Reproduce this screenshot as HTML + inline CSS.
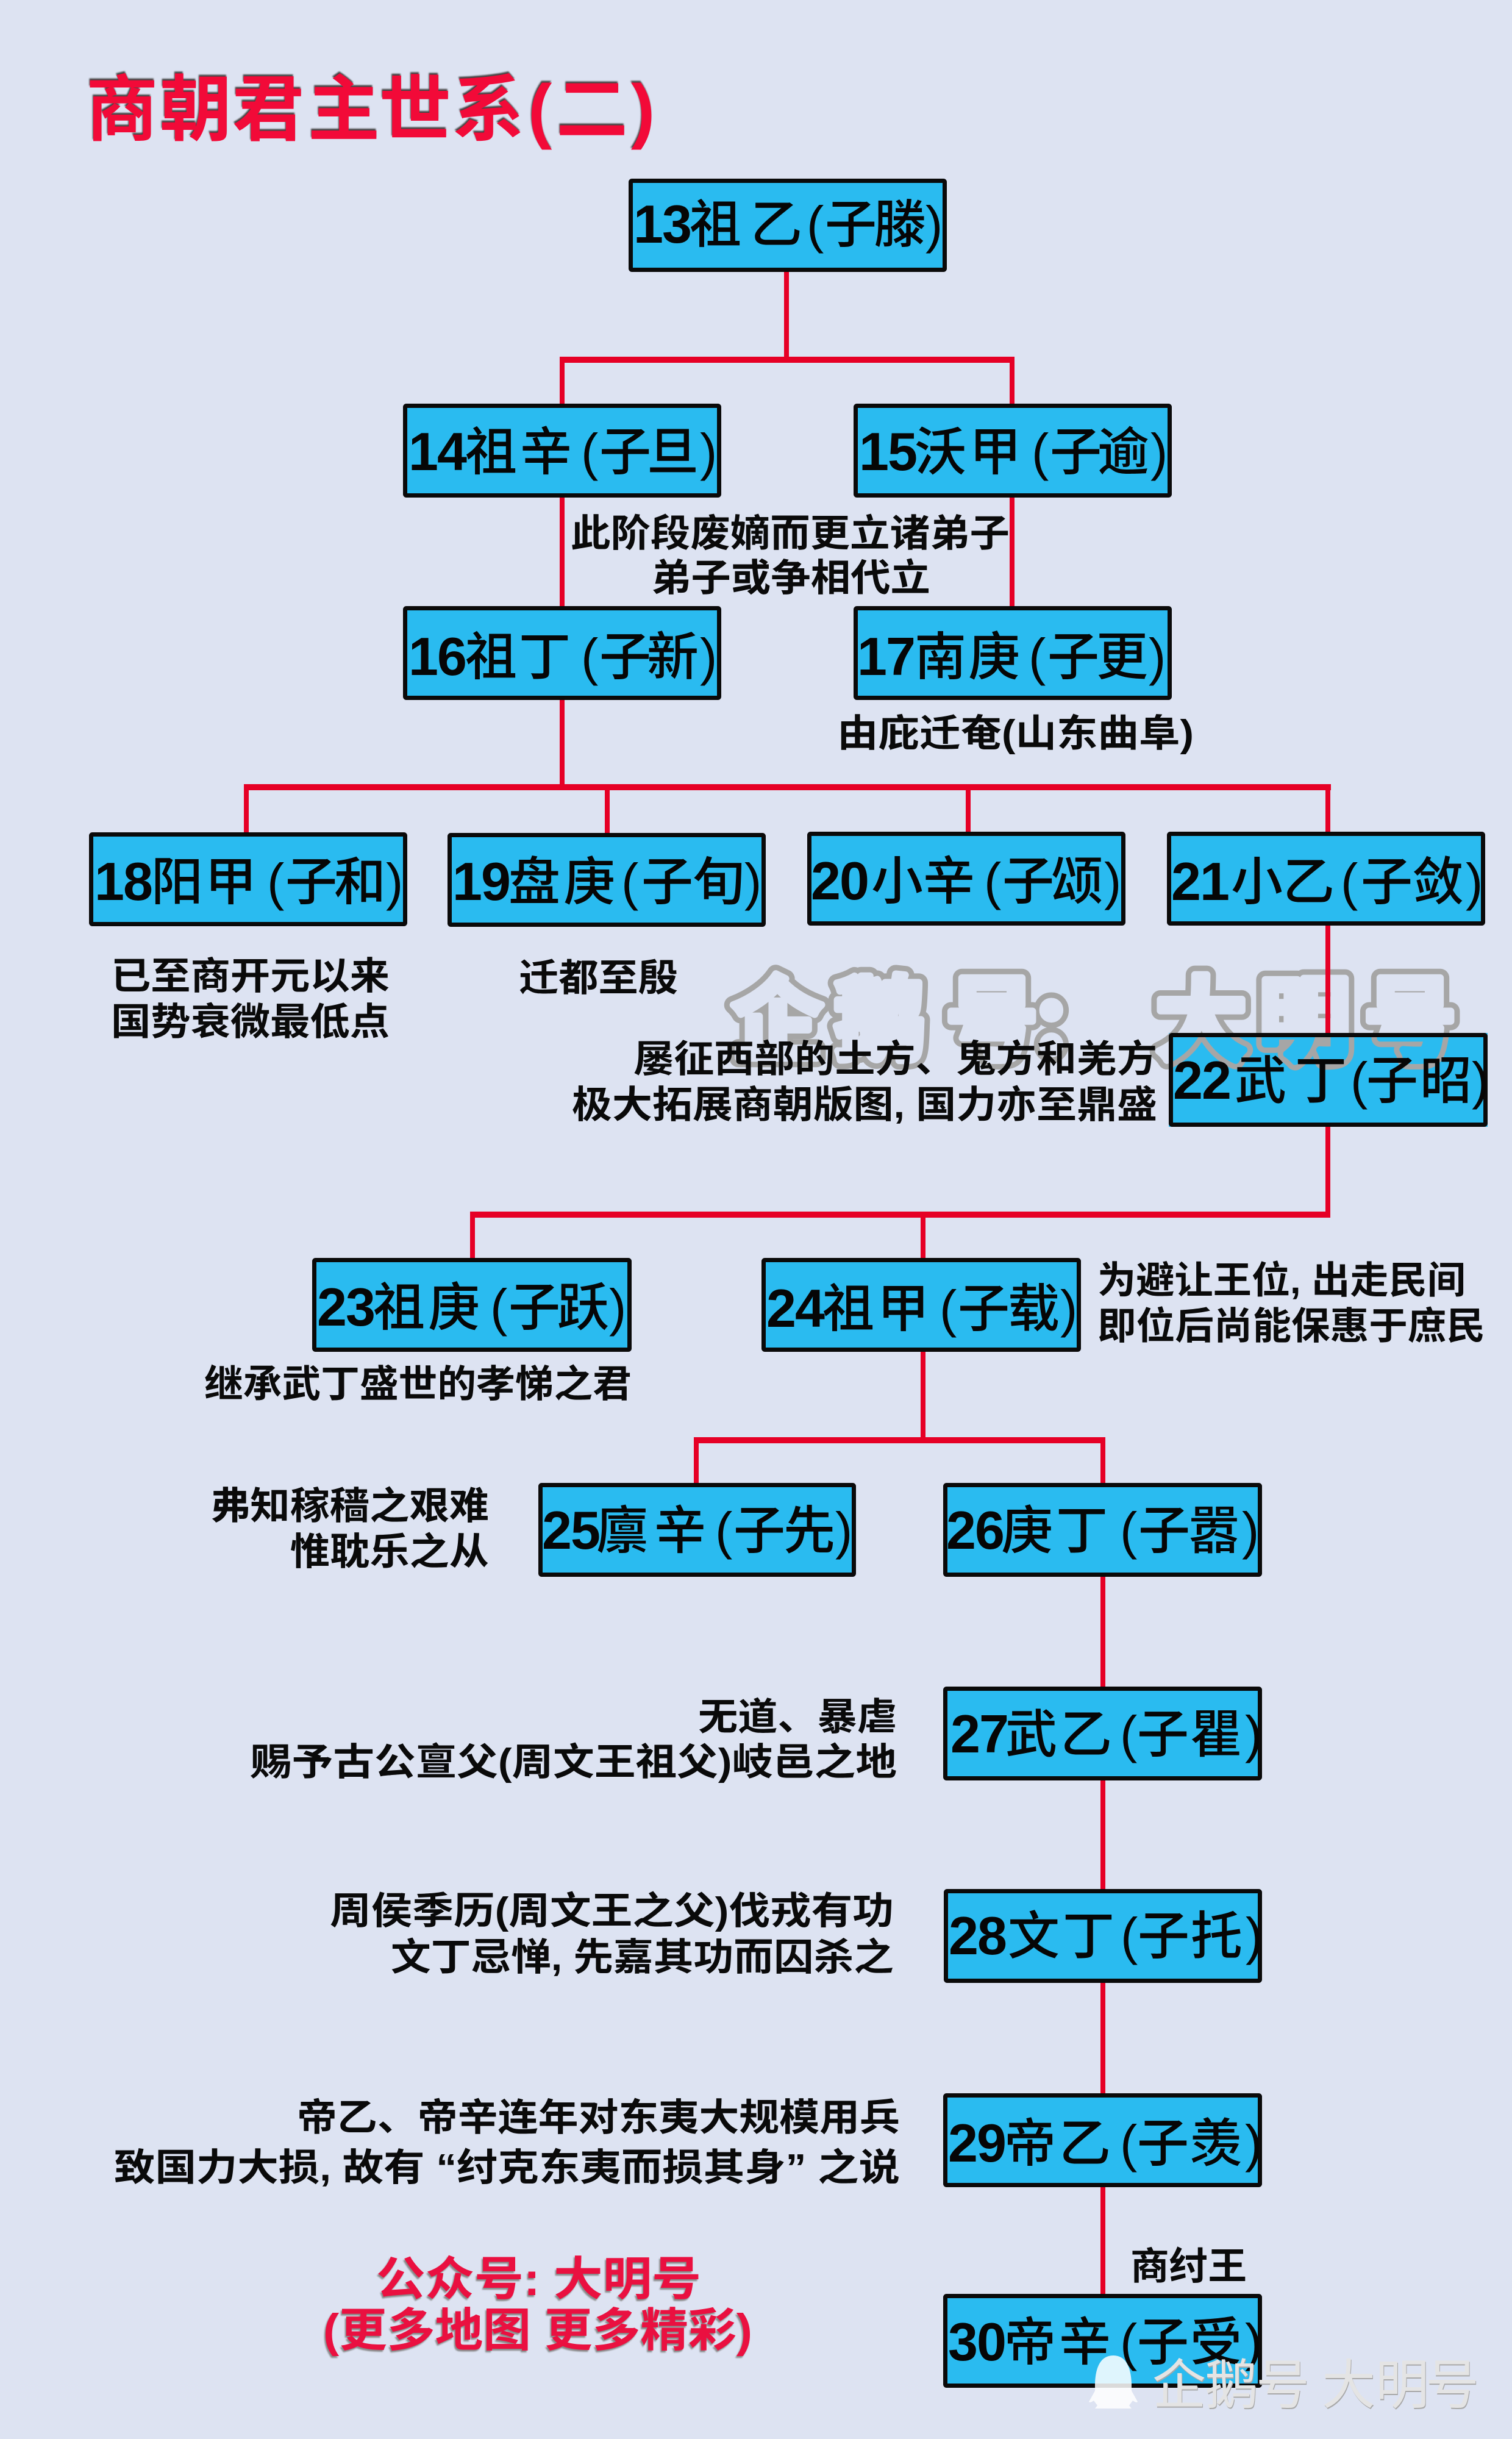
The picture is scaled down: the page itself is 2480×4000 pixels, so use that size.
<!DOCTYPE html>
<html lang="zh"><head><meta charset="utf-8"><title>商朝君主世系(二)</title>
<style>
html,body{margin:0;padding:0;background:#dde3f2}
svg{display:block}
.r{fill:none;stroke:#0a0a0a;stroke-width:7}
.f{fill:#2abbf0}
.n{font:500 85px "Liberation Sans","Noto Sans CJK SC",sans-serif;fill:#060606}
.n tspan{font-weight:700;font-size:88px}
.a{font:700 62px "Liberation Sans","Noto Sans CJK SC",sans-serif;fill:#0a0a0a}
.t{font:700 118px "Liberation Sans","Noto Sans CJK SC",sans-serif;fill:#f20a38;filter:drop-shadow(-1px -3px 1px #444)}
.p{font:700 76px "Liberation Sans","Noto Sans CJK SC",sans-serif;fill:#ea1040;filter:drop-shadow(-2px 3px 1px #888)}
.w{font:700 150px "Noto Sans CJK SC",sans-serif;stroke-linejoin:round;stroke-linecap:round}
.b{font:400 88px "Noto Sans CJK SC",sans-serif;fill:#e4e4e4;filter:drop-shadow(1px 2px 0 #a8a8a8)}
.l{fill:#e60026}
</style></head><body>
<svg xmlns="http://www.w3.org/2000/svg" width="2480" height="4000" viewBox="0 0 2480 4000">
<defs>
<mask id="ring" maskUnits="userSpaceOnUse" x="1100" y="1500" width="1380" height="340">
<text class="w" fill="#fff" stroke="#fff" stroke-width="30" y="1726" x="1200 1368 1552 1700 1895 2065 2238">企鹅号:大明号</text>
<text class="w" fill="#000" stroke="#000" stroke-width="12" y="1726" x="1200 1368 1552 1700 1895 2065 2238">企鹅号:大明号</text>
</mask>
</defs>
<rect width="2480" height="4000" fill="#dde3f2"/>

<rect class="f" x="1917" y="1694" width="523" height="154"/>
<rect x="1100" y="1500" width="1380" height="340" fill="#a6a6a6" mask="url(#ring)"/>

<!-- connectors -->
<g class="l">
<rect x="1286" y="446" width="8" height="146"/>
<rect x="918" y="585" width="746" height="10"/>
<rect x="918" y="585" width="8" height="78"/>
<rect x="1656" y="585" width="8" height="78"/>
<rect x="918" y="816" width="8" height="178"/>
<rect x="1656" y="815" width="8" height="179"/>
<rect x="918" y="1148" width="8" height="144"/>
<rect x="400" y="1286" width="1783" height="10"/>
<rect x="400" y="1286" width="8" height="80"/>
<rect x="992" y="1286" width="8" height="80"/>
<rect x="1584" y="1286" width="8" height="80"/>
<rect x="2174" y="1286" width="8" height="80"/>
<rect x="2174" y="1518" width="8" height="176"/>
<rect x="2174" y="1848" width="8" height="149"/>
<rect x="771" y="1987" width="1411" height="10"/>
<rect x="771" y="1987" width="8" height="77"/>
<rect x="1510" y="1987" width="8" height="77"/>
<rect x="1510" y="2217" width="8" height="148"/>
<rect x="1138" y="2357" width="675" height="10"/>
<rect x="1138" y="2357" width="8" height="76"/>
<rect x="1805" y="2357" width="8" height="76"/>
<rect x="1805" y="2586" width="8" height="1177"/>
</g>

<!-- boxes -->
<g>
<g transform="translate(1031,293)"><rect class="f" x="3" y="3" width="516" height="147"/><rect class="r" x="3.5" y="3.5" width="515" height="146" rx="2"/><text class="n" y="105" x="8 55 100 200 292 322 403 487"><tspan>13</tspan>祖乙(子滕)</text></g>
<g transform="translate(661,662)"><rect class="f" x="3" y="3" width="516" height="148"/><rect class="r" x="3.5" y="3.5" width="515" height="147" rx="2"/><text class="n" y="109" x="9 56 102 192 292 322 400 487"><tspan>14</tspan>祖辛(子旦)</text></g>
<g transform="translate(1400,662)"><rect class="f" x="3" y="3" width="516" height="148"/><rect class="r" x="3.5" y="3.5" width="515" height="147" rx="2"/><text class="n" y="109" x="9 56 100 190 292 322 400 487"><tspan>15</tspan>沃甲(子逾)</text></g>
<g transform="translate(661,994)"><rect class="f" x="3" y="3" width="516" height="148"/><rect class="r" x="3.5" y="3.5" width="515" height="147" rx="2"/><text class="n" y="113" x="9 56 102 190 292 322 400 487"><tspan>16</tspan>祖丁(子新)</text></g>
<g transform="translate(1400,994)"><rect class="f" x="3" y="3" width="516" height="148"/><rect class="r" x="3.5" y="3.5" width="515" height="147" rx="2"/><text class="n" y="113" x="6 53 100 188 287 318 398 484"><tspan>17</tspan>南庚(子更)</text></g>
<g transform="translate(146,1365)"><rect class="f" x="3" y="3" width="516" height="148"/><rect class="r" x="3.5" y="3.5" width="515" height="147" rx="2"/><text class="n" y="111" x="9 56 102 190 292 322 402 487"><tspan>18</tspan>阳甲(子和)</text></g>
<g transform="translate(734,1366)"><rect class="f" x="3" y="3" width="516" height="148"/><rect class="r" x="3.5" y="3.5" width="515" height="147" rx="2"/><text class="n" y="110" x="8 55 100 190 285 318 402 487"><tspan>19</tspan>盘庚(子旬)</text></g>
<g transform="translate(1324,1364)"><rect class="f" x="3" y="3" width="516" height="148"/><rect class="r" x="3.5" y="3.5" width="515" height="147" rx="2"/><text class="n" y="111" x="6 53 105 190 290 320 400 487"><tspan>20</tspan>小辛(子颂)</text></g>
<g transform="translate(1914,1364)"><rect class="f" x="3" y="3" width="516" height="148"/><rect class="r" x="3.5" y="3.5" width="515" height="147" rx="2"/><text class="n" y="112" x="7 54 105 190 285 318 402 490"><tspan>21</tspan>小乙(子敛)</text></g>
<g transform="translate(1917,1694)"><rect class="r" x="3.5" y="3.5" width="516" height="147" rx="2"/><text class="n" y="108" x="7 54 108 207 298 324 412 497"><tspan>22</tspan>武丁(子昭)</text></g>
<g transform="translate(512,2063)"><rect class="f" x="3" y="3" width="518" height="148"/><rect class="r" x="3.5" y="3.5" width="517" height="147" rx="2"/><text class="n" y="111" x="8 55 100 190 292 322 402 487"><tspan>23</tspan>祖庚(子跃)</text></g>
<g transform="translate(1249,2063)"><rect class="f" x="3" y="3" width="518" height="148"/><rect class="r" x="3.5" y="3.5" width="517" height="147" rx="2"/><text class="n" y="113" x="8 55 100 190 292 322 404 490"><tspan>24</tspan>祖甲(子载)</text></g>
<g transform="translate(883,2432)"><rect class="f" x="3" y="3" width="515" height="148"/><rect class="r" x="3.5" y="3.5" width="514" height="147" rx="2"/><text class="n" y="108" x="6 53 95 190 290 320 402 487"><tspan>25</tspan>廪辛(子先)</text></g>
<g transform="translate(1547,2432)"><rect class="f" x="3" y="3" width="517" height="148"/><rect class="r" x="3.5" y="3.5" width="516" height="147" rx="2"/><text class="n" y="108" x="5 52 95 185 290 320 402 490"><tspan>26</tspan>庚丁(子嚣)</text></g>
<g transform="translate(1547,2766)"><rect class="f" x="3" y="3" width="517" height="148"/><rect class="r" x="3.5" y="3.5" width="516" height="147" rx="2"/><text class="n" y="108" x="12 59 102 192 290 318 405 495"><tspan>27</tspan>武乙(子瞿)</text></g>
<g transform="translate(1548,3098)"><rect class="f" x="3" y="3" width="516" height="148"/><rect class="r" x="3.5" y="3.5" width="515" height="147" rx="2"/><text class="n" y="107" x="8 55 105 195 290 318 405 495"><tspan>28</tspan>文丁(子托)</text></g>
<g transform="translate(1547,3433)"><rect class="f" x="3" y="3" width="517" height="148"/><rect class="r" x="3.5" y="3.5" width="516" height="147" rx="2"/><text class="n" y="112" x="8 55 100 190 290 318 405 495"><tspan>29</tspan>帝乙(子羡)</text></g>
<g transform="translate(1547,3762)"><rect class="f" x="3" y="3" width="517" height="148"/><rect class="r" x="3.5" y="3.5" width="516" height="147" rx="2"/><text class="n" y="109" x="8 55 100 190 290 318 405 495"><tspan>30</tspan>帝辛(子受)</text></g>
</g>

<!-- title -->
<text class="t" x="141 262 381 505 622 742 866 912 1035" y="221">商朝君主世系(二)</text>

<!-- annotations -->
<g class="a">
<text x="936" y="896" textLength="720" lengthAdjust="spacingAndGlyphs">此阶段废嫡而更立诸弟子</text>
<text x="1068" y="969" textLength="458" lengthAdjust="spacingAndGlyphs">弟子或争相代立</text>
<text x="1373" y="1224" textLength="585" lengthAdjust="spacingAndGlyphs">由庇迁奄(山东曲阜)</text>
<text x="182" y="1622" textLength="457" lengthAdjust="spacingAndGlyphs">已至商开元以来</text>
<text x="182" y="1697" textLength="457" lengthAdjust="spacingAndGlyphs">国势衰微最低点</text>
<text x="851" y="1625" textLength="261" lengthAdjust="spacingAndGlyphs">迁都至殷</text>
<text x="1039" y="1758" textLength="859" lengthAdjust="spacingAndGlyphs">屡征西部的土方、鬼方和羌方</text>
<text x="938" y="1833" textLength="960" lengthAdjust="spacingAndGlyphs">极大拓展商朝版图, 国力亦至鼎盛</text>
<text x="1800" y="2121" textLength="604" lengthAdjust="spacingAndGlyphs">为避让王位, 出走民间</text>
<text x="1800" y="2196" textLength="636" lengthAdjust="spacingAndGlyphs">即位后尚能保惠于庶民</text>
<text x="335" y="2291" textLength="701" lengthAdjust="spacingAndGlyphs">继承武丁盛世的孝悌之君</text>
<text x="345" y="2491" textLength="457" lengthAdjust="spacingAndGlyphs">弗知稼穑之艰难</text>
<text x="476" y="2566" textLength="326" lengthAdjust="spacingAndGlyphs">惟耽乐之从</text>
<text x="1145" y="2837" textLength="326" lengthAdjust="spacingAndGlyphs">无道、暴虐</text>
<text x="411" y="2911" textLength="1060" lengthAdjust="spacingAndGlyphs">赐予古公亶父(周文王祖父)岐邑之地</text>
<text x="541" y="3155" textLength="925" lengthAdjust="spacingAndGlyphs">周侯季历(周文王之父)伐戎有功</text>
<text x="641" y="3231" textLength="825" lengthAdjust="spacingAndGlyphs">文丁忌惮, 先嘉其功而囚杀之</text>
<text x="487" y="3494" textLength="989" lengthAdjust="spacingAndGlyphs">帝乙、帝辛连年对东夷大规模用兵</text>
<text x="187" y="3576" textLength="1289" lengthAdjust="spacingAndGlyphs">致国力大损, 故有 “纣克东夷而损其身” 之说</text>
<text x="1854" y="3738" textLength="191" lengthAdjust="spacingAndGlyphs">商纣王</text>
</g>

<text class="p" x="617" y="3764" textLength="533" lengthAdjust="spacingAndGlyphs">公众号: 大明号</text>
<text class="p" x="530" y="3848" textLength="704" lengthAdjust="spacingAndGlyphs">(更多地图  更多精彩)</text>

<!-- bottom watermark -->
<path d="M1826 3863c-20 0-29 18-30 46l0 12-10 18c2 2 5 0 8-2l6 8-4 5h60l-4-5 6-8c3 2 6 4 8 2l-10-18 0-12c-1-28-10-46-30-46z" fill="#fff" fill-opacity=".85"/>
<text class="b" y="3942" x="1890 1976 2060 2168 2256 2338">企鹅号大明号</text>
</svg>
</body></html>
